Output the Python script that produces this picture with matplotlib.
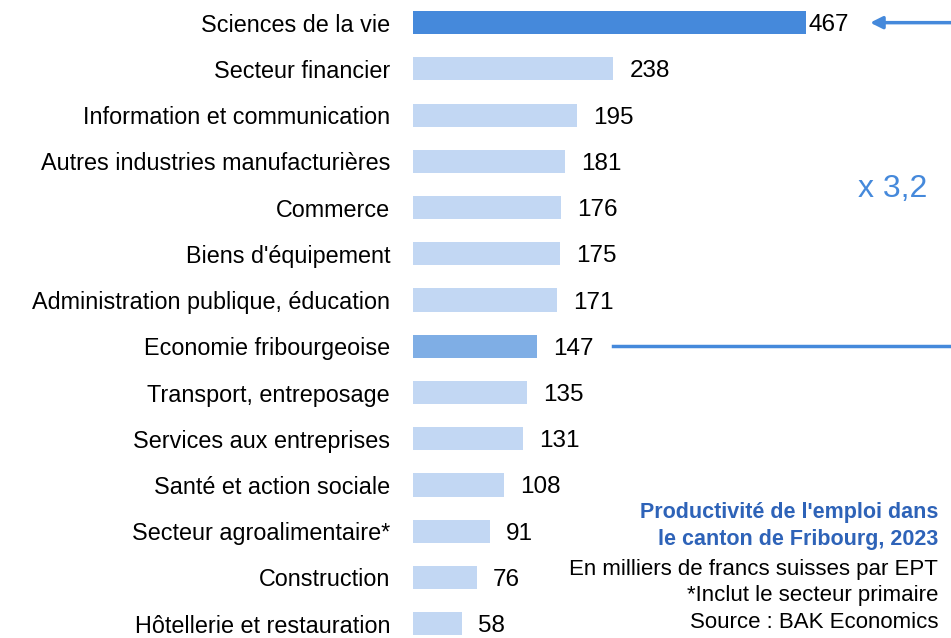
import matplotlib.pyplot as plt

plt.rcParams['font.family'] = ['Liberation Sans', 'DejaVu Sans']

# données
secteurs = ["Sciences de la vie", "Secteur financier", "Information et communication",
            "Autres industries manufacturières", "Commerce", "Biens d'équipement",
            "Administration publique, éducation", "Economie fribourgeoise",
            "Transport, entreposage", "Services aux entreprises", "Santé et action sociale",
            "Secteur agroalimentaire*", "Construction", "Hôtellerie et restauration"]
valeurs = [467, 238, 195, 181, 176, 175, 171, 147, 135, 131, 108, 91, 76, 58]

bleu = '#4589DB'
couleurs = ['#C2D7F3'] * len(valeurs)
couleurs[0] = bleu
couleurs[secteurs.index("Economie fribourgeoise")] = '#7FAEE5'

W, H = 951, 638
fig = plt.figure(figsize=(W / 100, H / 100), dpi=100)
ax = fig.add_axes([413 / W, 0, 1 - 413 / W, 1])

y = list(range(len(valeurs)))
ax.barh(y, valeurs, height=0.5, color=couleurs)
ax.set_ylim(13.31, -0.49)
ax.set_xlim(0, 639)

ax.set_yticks(y)
ax.set_yticklabels(secteurs, fontsize=16.8)
ax.tick_params(axis='y', length=0, pad=16.5)
ax.set_xticks([])
for s in ax.spines.values():
    s.set_visible(False)

for i, v in enumerate(valeurs):
    dx = 2 if i == 0 else 16
    ax.annotate(str(v), (v, i), xytext=(dx, 0), textcoords='offset pixels',
                va='center_baseline', ha='left', fontsize=17.5)

# flèche et ligne
ifr = secteurs.index("Economie fribourgeoise")
ax.annotate('', xy=(543, 0), xytext=(639, 0),
            arrowprops=dict(arrowstyle='-|>', color=bleu, lw=2.5, mutation_scale=18,
                            shrinkA=0, shrinkB=0))
ax.plot([237, 639], [ifr, ifr], color=bleu, lw=2.5, clip_on=False)
fig.text(893 / W, 1 - 189 / H, 'x 3,2', color=bleu, fontsize=23,
         ha='center', va='center')

# notes
fig.text(938 / W, 1 - 526 / H, "Productivité de l'emploi dans\nle canton de Fribourg, 2023",
         color='#2E63B8', fontweight='bold', fontsize=15.5, ha='right', va='center',
         linespacing=1.38)
fig.text(938 / W, 1 - 596 / H,
         "En milliers de francs suisses par EPT\n*Inclut le secteur primaire\nSource : BAK Economics",
         fontsize=16, ha='right', va='center', linespacing=1.36)

fig.savefig('out.png', dpi=100)
